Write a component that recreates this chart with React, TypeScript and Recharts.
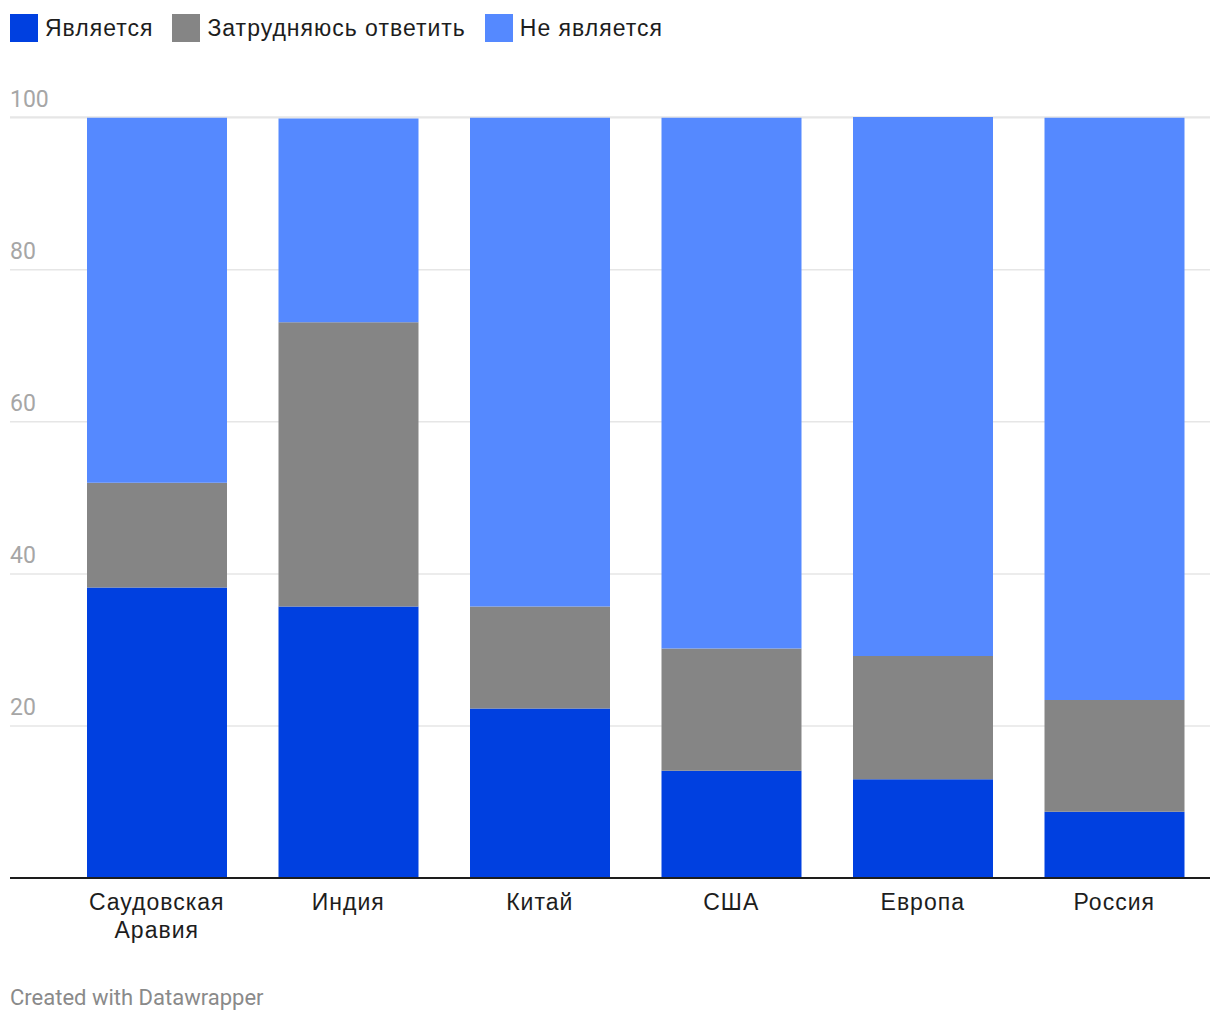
import { BarChart, Bar, XAxis, YAxis, CartesianGrid } from 'recharts';

const categories = ['Саудовская Аравия', 'Индия', 'Китай', 'США', 'Европа', 'Россия'];
const yes = [38.2, 35.7, 22.3, 14.1, 13.0, 8.7];
const unsure = [13.8, 37.4, 13.4, 16.1, 16.2, 14.7];
const no = [48.0, 26.8, 64.3, 69.8, 70.9, 76.6];
const yTicks = [0, 20, 40, 60, 80, 100];

const series = [
  { key: 'yes', name: 'Является', color: '#0040e0' },
  { key: 'unsure', name: 'Затрудняюсь ответить', color: '#858585' },
  { key: 'no', name: 'Не является', color: '#5589ff' },
];

const data = categories.map((name, i) => ({ name, yes: yes[i], unsure: unsure[i], no: no[i] }));

const LABEL_FONT = '"Liberation Sans", Arial, sans-serif';
const FONT = 'Roboto, "Noto Sans", sans-serif';

function CategoryTick({ x, y, payload }: any) {
  const words = String(payload.value).split(' ');
  return (
    <text
      x={x}
      y={y + 24}
      textAnchor="middle"
      fill="#1d1d1d"
      fontSize={23}
      letterSpacing={1}
      fontFamily={LABEL_FONT}
    >
      {words.map((w, i) => (
        <tspan key={i} x={x} dy={i === 0 ? 0 : 28}>
          {w}
        </tspan>
      ))}
    </text>
  );
}

function ValueTick(props: any) {
  const { y, payload } = props;
  if (payload.value === 0) return <g />;
  return (
    <text x={10} y={y - 11} textAnchor="start" fill="#a6a6a6" fontSize={23} fontFamily={FONT}>
      {payload.value}
    </text>
  );
}

export default function App() {
  return (
    <div style={{ position: 'relative', width: 1220, height: 1020, fontFamily: FONT, background: '#fff' }}>
      <style>{`body{margin:0}`}</style>
      <div style={{ position: 'absolute', left: 10, top: 14, display: 'flex', alignItems: 'center' }}>
        {series.map((s) => (
          <div key={s.key} style={{ display: 'flex', alignItems: 'center', marginRight: 19 }}>
            <div style={{ width: 28, height: 28, background: s.color, marginRight: 7 }} />
            <span
              style={{
                fontSize: 23,
                letterSpacing: 1,
                color: '#1d1d1d',
                lineHeight: '28px',
                fontFamily: LABEL_FONT,
              }}
            >
              {s.name}
            </span>
          </div>
        ))}
      </div>
      <div style={{ position: 'absolute', top: 0, left: 0 }}>
        <BarChart
          width={1220}
          height={1020}
          data={data}
          margin={{ top: 117, right: 10, left: 9, bottom: 0 }}
          barSize={140}
        >
          <CartesianGrid vertical={false} stroke="#e6e6e6" strokeWidth={1.5} />
          <XAxis
            dataKey="name"
            height={142}
            padding={{ left: 51, right: 0 }}
            tickLine={false}
            axisLine={{ stroke: '#1d1d1d', strokeWidth: 2 }}
            tick={<CategoryTick />}
            interval={0}
          />
          <YAxis
            width={1}
            domain={[0, 100]}
            ticks={yTicks}
            interval={0}
            axisLine={false}
            tickLine={false}
            tick={(p: any) => <ValueTick {...p} />}
          />
          {series.map((s) => (
            <Bar key={s.key} dataKey={s.key} name={s.name} stackId="a" fill={s.color} isAnimationActive={false} />
          ))}
        </BarChart>
      </div>
      <div style={{ position: 'absolute', left: 10, top: 985, fontSize: 22, color: '#8a8a8a' }}>
        Created with Datawrapper
      </div>
    </div>
  );
}
